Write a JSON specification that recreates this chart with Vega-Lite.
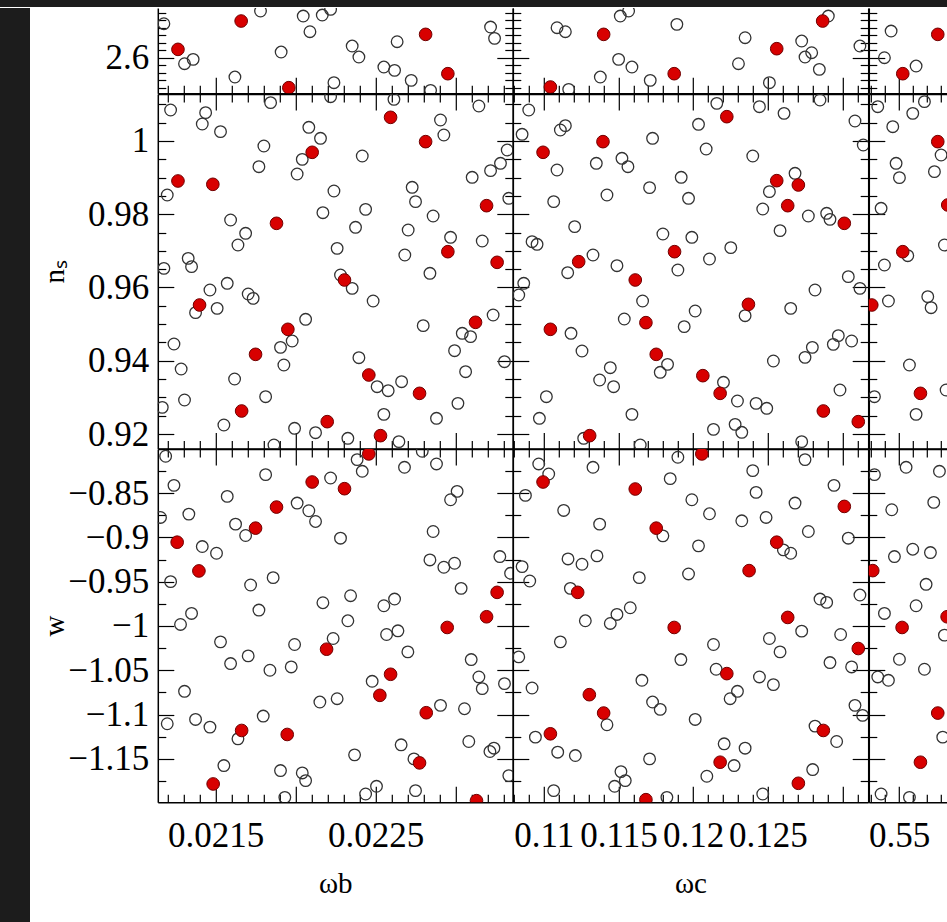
{
"$schema":"https://vega.github.io/schema/vega-lite/v6.json",
"background":"white",
"padding":0,
"spacing":-7,
"config":{
 "view":{"stroke":null},
 "axis":{"domain":true,"domainColor":"black","domainWidth":1.5,"ticks":true,"tickColor":"black","tickWidth":1.2,"tickSize":-16,"grid":false,"zindex":1,"labelFont":"Liberation Serif","labelFontSize":35,"labelColor":"black","labelOverlap":false,"labelFlush":false,"labelBound":false,"titleFont":"Liberation Serif","titleFontSize":29,"titleFontWeight":"normal","titleColor":"black"}
},
"datasets":{
"r0c1":[
{"x":0.021177,"y":2.71333,"t":"o"},{"x":0.02166,"y":2.72222,"t":"r"},{"x":0.021781,"y":2.75556,"t":"o"},{"x":0.022048,"y":2.73889,"t":"o"},{"x":0.02209,"y":2.68667,"t":"o"},{"x":0.022167,"y":2.74222,"t":"o"},{"x":0.022219,"y":2.76111,"t":"o"},{"x":0.021265,"y":2.62778,"t":"r"},{"x":0.021306,"y":2.58,"t":"o"},{"x":0.02136,"y":2.59444,"t":"o"},{"x":0.02191,"y":2.61889,"t":"o"},{"x":0.021621,"y":2.53556,"t":"o"},{"x":0.022354,"y":2.63889,"t":"o"},{"x":0.022396,"y":2.60222,"t":"o"},{"x":0.022635,"y":2.65333,"t":"o"},{"x":0.022813,"y":2.67778,"t":"r"},{"x":0.022552,"y":2.56889,"t":"o"},{"x":0.022619,"y":2.55778,"t":"o"},{"x":0.022952,"y":2.54667,"t":"r"},{"x":0.022723,"y":2.52444,"t":"o"},{"x":0.023219,"y":2.70222,"t":"o"},{"x":0.023244,"y":2.66444,"t":"o"},{"x":0.021958,"y":2.5,"t":"r"},{"x":0.02224,"y":2.51667,"t":"o"},{"x":0.022844,"y":2.49111,"t":"o"}
],
"r0c2":[
{"x":0.110891,"y":2.7,"t":"o"},{"x":0.111448,"y":2.68667,"t":"o"},{"x":0.114011,"y":2.67778,"t":"r"},{"x":0.115125,"y":2.73889,"t":"o"},{"x":0.115682,"y":2.75556,"t":"o"},{"x":0.118913,"y":2.71111,"t":"o"},{"x":0.115013,"y":2.59444,"t":"o"},{"x":0.115905,"y":2.56889,"t":"o"},{"x":0.113788,"y":2.53556,"t":"o"},{"x":0.11713,"y":2.52444,"t":"o"},{"x":0.118734,"y":2.54667,"t":"r"},{"x":0.110446,"y":2.50222,"t":"r"},{"x":0.111671,"y":2.49444,"t":"o"},{"x":0.12348,"y":2.66667,"t":"o"},{"x":0.123035,"y":2.58,"t":"o"},{"x":0.125597,"y":2.63,"t":"r"},{"x":0.127268,"y":2.65556,"t":"o"},{"x":0.127937,"y":2.61667,"t":"o"},{"x":0.127491,"y":2.60222,"t":"o"},{"x":0.128449,"y":2.56111,"t":"o"},{"x":0.128672,"y":2.72222,"t":"r"},{"x":0.129051,"y":2.73889,"t":"o"},{"x":0.125107,"y":2.51667,"t":"o"},{"x":0.131167,"y":2.63889,"t":"o"}
],
"r0c3":[
{"x":0.54429,"y":2.68889,"t":"o"},{"x":0.53952,"y":2.6,"t":"o"},{"x":0.56214,"y":2.57222,"t":"o"},{"x":0.55262,"y":2.54667,"t":"r"},{"x":0.57762,"y":2.67778,"t":"r"}
],
"r1c1":[
{"x":0.022219,"y":1.0121,"t":"o"},{"x":0.021219,"y":1.00846,"t":"o"},{"x":0.021438,"y":1.00774,"t":"o"},{"x":0.021417,"y":1.00464,"t":"o"},{"x":0.021531,"y":1.00255,"t":"o"},{"x":0.021844,"y":1.01047,"t":"o"},{"x":0.022615,"y":1.01138,"t":"o"},{"x":0.023146,"y":1.00956,"t":"o"},{"x":0.022594,"y":1.00646,"t":"r"},{"x":0.022083,"y":1.00373,"t":"o"},{"x":0.022156,"y":1.00073,"t":"o"},{"x":0.022104,"y":0.99691,"t":"r"},{"x":0.022906,"y":1.00573,"t":"o"},{"x":0.022927,"y":1.00164,"t":"o"},{"x":0.022813,"y":0.99982,"t":"r"},{"x":0.021802,"y":0.99863,"t":"o"},{"x":0.021771,"y":0.99299,"t":"o"},{"x":0.022042,"y":0.99499,"t":"o"},{"x":0.02201,"y":0.99099,"t":"o"},{"x":0.022417,"y":0.9959,"t":"o"},{"x":0.023323,"y":0.99754,"t":"o"},{"x":0.023281,"y":0.9939,"t":"o"},{"x":0.023219,"y":0.9919,"t":"o"},{"x":0.023104,"y":0.99008,"t":"o"},{"x":0.021265,"y":0.98908,"t":"r"},{"x":0.021483,"y":0.98817,"t":"r"},{"x":0.021198,"y":0.98526,"t":"o"},{"x":0.02224,"y":0.98635,"t":"o"},{"x":0.022729,"y":0.98735,"t":"o"},{"x":0.02275,"y":0.98344,"t":"o"},{"x":0.023333,"y":0.98435,"t":"o"},{"x":0.023194,"y":0.98234,"t":"r"},{"x":0.022171,"y":0.98043,"t":"o"},{"x":0.022438,"y":0.98134,"t":"o"},{"x":0.022375,"y":0.97643,"t":"o"},{"x":0.02286,"y":0.97952,"t":"o"},{"x":0.021594,"y":0.97843,"t":"o"},{"x":0.021881,"y":0.97752,"t":"r"},{"x":0.021688,"y":0.97479,"t":"o"},{"x":0.02164,"y":0.9716,"t":"o"},{"x":0.022704,"y":0.9757,"t":"o"},{"x":0.022969,"y":0.9737,"t":"o"},{"x":0.023167,"y":0.9727,"t":"o"},{"x":0.022952,"y":0.96978,"t":"r"},{"x":0.02226,"y":0.97069,"t":"o"},{"x":0.022683,"y":0.96887,"t":"o"},{"x":0.021329,"y":0.96796,"t":"o"},{"x":0.02135,"y":0.96569,"t":"o"},{"x":0.021177,"y":0.96523,"t":"o"},{"x":0.02326,"y":0.96687,"t":"r"},{"x":0.02284,"y":0.96387,"t":"o"},{"x":0.022281,"y":0.96341,"t":"o"},{"x":0.022306,"y":0.96205,"t":"r"},{"x":0.022354,"y":0.95977,"t":"o"},{"x":0.021573,"y":0.96114,"t":"o"},{"x":0.021465,"y":0.95932,"t":"o"},{"x":0.021704,"y":0.95823,"t":"o"},{"x":0.021735,"y":0.95704,"t":"o"},{"x":0.0214,"y":0.95522,"t":"r"},{"x":0.021375,"y":0.95313,"t":"o"},{"x":0.02151,"y":0.95431,"t":"o"},{"x":0.022485,"y":0.95631,"t":"o"},{"x":0.022063,"y":0.95131,"t":"o"},{"x":0.023125,"y":0.95049,"t":"r"},{"x":0.023235,"y":0.95249,"t":"o"},{"x":0.022798,"y":0.94958,"t":"o"},{"x":0.023042,"y":0.94749,"t":"o"},{"x":0.023094,"y":0.94658,"t":"o"},{"x":0.021952,"y":0.94858,"t":"r"},{"x":0.021979,"y":0.94539,"t":"o"},{"x":0.021906,"y":0.94366,"t":"o"},{"x":0.02124,"y":0.94457,"t":"o"},{"x":0.02175,"y":0.94175,"t":"r"},{"x":0.021927,"y":0.93884,"t":"o"},{"x":0.022396,"y":0.94084,"t":"o"},{"x":0.022994,"y":0.94275,"t":"o"},{"x":0.023306,"y":0.93975,"t":"o"},{"x":0.021285,"y":0.93775,"t":"o"},{"x":0.022458,"y":0.93611,"t":"r"},{"x":0.02251,"y":0.93292,"t":"o"},{"x":0.022579,"y":0.93183,"t":"o"},{"x":0.022663,"y":0.93429,"t":"o"},{"x":0.023063,"y":0.93702,"t":"o"},{"x":0.021619,"y":0.93502,"t":"o"},{"x":0.022775,"y":0.9311,"t":"r"},{"x":0.021813,"y":0.93019,"t":"o"},{"x":0.021306,"y":0.92928,"t":"o"},{"x":0.021167,"y":0.92728,"t":"o"},{"x":0.023015,"y":0.92837,"t":"o"},{"x":0.021663,"y":0.92628,"t":"r"},{"x":0.022552,"y":0.92537,"t":"o"},{"x":0.022881,"y":0.92428,"t":"o"},{"x":0.022198,"y":0.92337,"t":"r"},{"x":0.021552,"y":0.92246,"t":"o"},{"x":0.021994,"y":0.92155,"t":"o"},{"x":0.022125,"y":0.92036,"t":"o"},{"x":0.022531,"y":0.91955,"t":"r"},{"x":0.022327,"y":0.91882,"t":"o"},{"x":0.022646,"y":0.91791,"t":"o"},{"x":0.021865,"y":0.917,"t":"o"}
],
"r1c2":[
{"x":0.108997,"y":1.00846,"t":"o"},{"x":0.108552,"y":1.00182,"t":"o"},{"x":0.111114,"y":1.003,"t":"o"},{"x":0.111448,"y":1.00419,"t":"o"},{"x":0.122255,"y":1.00664,"t":"r"},{"x":0.121586,"y":1.01028,"t":"o"},{"x":0.124439,"y":1.00937,"t":"o"},{"x":0.126087,"y":1.00755,"t":"o"},{"x":0.128494,"y":1.01119,"t":"o"},{"x":0.130834,"y":1.00546,"t":"o"},{"x":0.120361,"y":1.00455,"t":"o"},{"x":0.113966,"y":0.99982,"t":"r"},{"x":0.117286,"y":1.00073,"t":"o"},{"x":0.109955,"y":0.99691,"t":"r"},{"x":0.120873,"y":0.99782,"t":"o"},{"x":0.123993,"y":0.9959,"t":"o"},{"x":0.13139,"y":0.99891,"t":"o"},{"x":0.110891,"y":0.99208,"t":"o"},{"x":0.11352,"y":0.9939,"t":"o"},{"x":0.115236,"y":0.99527,"t":"o"},{"x":0.115637,"y":0.99299,"t":"o"},{"x":0.119202,"y":0.99008,"t":"o"},{"x":0.125597,"y":0.98917,"t":"r"},{"x":0.127045,"y":0.98799,"t":"r"},{"x":0.126823,"y":0.99117,"t":"o"},{"x":0.125107,"y":0.98617,"t":"o"},{"x":0.126332,"y":0.98234,"t":"r"},{"x":0.124661,"y":0.98143,"t":"o"},{"x":0.117086,"y":0.98726,"t":"o"},{"x":0.114233,"y":0.98526,"t":"o"},{"x":0.119693,"y":0.98435,"t":"o"},{"x":0.110668,"y":0.98344,"t":"o"},{"x":0.127714,"y":0.97952,"t":"o"},{"x":0.128939,"y":0.98025,"t":"o"},{"x":0.129162,"y":0.97861,"t":"o"},{"x":0.13012,"y":0.97752,"t":"r"},{"x":0.112072,"y":0.97661,"t":"o"},{"x":0.12582,"y":0.97552,"t":"o"},{"x":0.117977,"y":0.97461,"t":"o"},{"x":0.119915,"y":0.9737,"t":"o"},{"x":0.10922,"y":0.97251,"t":"o"},{"x":0.109554,"y":0.97179,"t":"o"},{"x":0.118757,"y":0.96978,"t":"r"},{"x":0.122522,"y":0.97088,"t":"o"},{"x":0.121096,"y":0.96778,"t":"o"},{"x":0.11234,"y":0.96705,"t":"r"},{"x":0.111604,"y":0.96405,"t":"o"},{"x":0.113298,"y":0.96887,"t":"o"},{"x":0.114902,"y":0.96596,"t":"o"},{"x":0.11898,"y":0.96478,"t":"o"},{"x":0.108663,"y":0.96114,"t":"o"},{"x":0.108329,"y":0.95795,"t":"o"},{"x":0.116127,"y":0.96205,"t":"r"},{"x":0.130388,"y":0.96296,"t":"o"},{"x":0.131167,"y":0.95977,"t":"o"},{"x":0.12816,"y":0.95932,"t":"o"},{"x":0.116618,"y":0.95631,"t":"o"},{"x":0.123703,"y":0.9554,"t":"r"},{"x":0.12348,"y":0.95231,"t":"o"},{"x":0.126533,"y":0.95431,"t":"o"},{"x":0.120138,"y":0.95358,"t":"o"},{"x":0.115392,"y":0.9514,"t":"o"},{"x":0.11684,"y":0.9504,"t":"r"},{"x":0.119403,"y":0.94931,"t":"o"},{"x":0.110446,"y":0.94858,"t":"r"},{"x":0.111827,"y":0.94749,"t":"o"},{"x":0.112562,"y":0.94266,"t":"o"},{"x":0.129719,"y":0.94685,"t":"o"},{"x":0.129385,"y":0.94448,"t":"o"},{"x":0.13061,"y":0.94539,"t":"o"},{"x":0.127981,"y":0.94366,"t":"o"},{"x":0.127491,"y":0.94093,"t":"o"},{"x":0.125374,"y":0.93993,"t":"o"},{"x":0.117531,"y":0.94175,"t":"r"},{"x":0.118289,"y":0.93902,"t":"o"},{"x":0.117799,"y":0.93684,"t":"o"},{"x":0.114456,"y":0.93811,"t":"o"},{"x":0.113743,"y":0.93474,"t":"o"},{"x":0.114679,"y":0.93292,"t":"o"},{"x":0.120651,"y":0.93593,"t":"r"},{"x":0.122032,"y":0.93411,"t":"o"},{"x":0.121809,"y":0.9311,"t":"r"},{"x":0.122968,"y":0.92901,"t":"o"},{"x":0.124216,"y":0.92837,"t":"o"},{"x":0.124929,"y":0.92701,"t":"o"},{"x":0.129831,"y":0.93201,"t":"o"},{"x":0.110178,"y":0.93019,"t":"o"},{"x":0.10971,"y":0.92428,"t":"o"},{"x":0.115905,"y":0.92537,"t":"o"},{"x":0.128717,"y":0.92628,"t":"r"},{"x":0.131056,"y":0.92337,"t":"r"},{"x":0.121364,"y":0.92127,"t":"o"},{"x":0.122812,"y":0.92264,"t":"o"},{"x":0.123258,"y":0.92046,"t":"o"},{"x":0.113075,"y":0.91955,"t":"r"},{"x":0.112674,"y":0.91882,"t":"o"},{"x":0.127268,"y":0.91791,"t":"o"},{"x":0.116462,"y":0.917,"t":"o"}
],
"r1c3":[
{"x":0.53476,"y":1.00937,"t":"o"},{"x":0.54548,"y":1.00391,"t":"o"},{"x":0.55976,"y":1.00755,"t":"o"},{"x":0.5681,"y":1.01074,"t":"o"},{"x":0.57762,"y":0.99982,"t":"r"},{"x":0.58,"y":0.99618,"t":"o"},{"x":0.54786,"y":0.9939,"t":"o"},{"x":0.55024,"y":0.98999,"t":"o"},{"x":0.57524,"y":0.99163,"t":"o"},{"x":0.53714,"y":0.98162,"t":"o"},{"x":0.58238,"y":0.9716,"t":"o"},{"x":0.55262,"y":0.96978,"t":"r"},{"x":0.55619,"y":0.96869,"t":"o"},{"x":0.53952,"y":0.96614,"t":"o"},{"x":0.53048,"y":0.95522,"t":"r"},{"x":0.54238,"y":0.95631,"t":"o"},{"x":0.57048,"y":0.9575,"t":"o"},{"x":0.57286,"y":0.95449,"t":"o"},{"x":0.55738,"y":0.93884,"t":"o"},{"x":0.53238,"y":0.93019,"t":"o"},{"x":0.56524,"y":0.9311,"t":"r"},{"x":0.56214,"y":0.92537,"t":"o"},{"x":0.58476,"y":0.98253,"t":"r"},{"x":0.58357,"y":0.93201,"t":"o"}
],
"r2c1":[
{"x":0.022458,"y":-0.80585,"t":"r"},{"x":0.022385,"y":-0.81226,"t":"o"},{"x":0.022417,"y":-0.82547,"t":"o"},{"x":0.022792,"y":-0.80283,"t":"o"},{"x":0.021188,"y":-0.80849,"t":"o"},{"x":0.021813,"y":-0.82925,"t":"o"},{"x":0.02124,"y":-0.84132,"t":"o"},{"x":0.022104,"y":-0.83755,"t":"r"},{"x":0.022219,"y":-0.83302,"t":"o"},{"x":0.022306,"y":-0.84509,"t":"r"},{"x":0.022681,"y":-0.82094,"t":"o"},{"x":0.022881,"y":-0.81717,"t":"o"},{"x":0.021573,"y":-0.85377,"t":"o"},{"x":0.021881,"y":-0.86585,"t":"r"},{"x":0.02201,"y":-0.86132,"t":"o"},{"x":0.022083,"y":-0.87,"t":"o"},{"x":0.022125,"y":-0.88208,"t":"o"},{"x":0.02301,"y":-0.84811,"t":"o"},{"x":0.022969,"y":-0.85755,"t":"o"},{"x":0.021333,"y":-0.87377,"t":"o"},{"x":0.021156,"y":-0.87755,"t":"o"},{"x":0.021625,"y":-0.88509,"t":"o"},{"x":0.021688,"y":-0.89792,"t":"o"},{"x":0.02175,"y":-0.88962,"t":"r"},{"x":0.02286,"y":-0.8934,"t":"o"},{"x":0.02126,"y":-0.90547,"t":"r"},{"x":0.021417,"y":-0.91038,"t":"o"},{"x":0.021506,"y":-0.91792,"t":"o"},{"x":0.022281,"y":-0.90094,"t":"o"},{"x":0.023277,"y":-0.9217,"t":"o"},{"x":0.02284,"y":-0.92547,"t":"o"},{"x":0.022927,"y":-0.93377,"t":"o"},{"x":0.022994,"y":-0.92925,"t":"o"},{"x":0.021396,"y":-0.93792,"t":"r"},{"x":0.023344,"y":-0.94057,"t":"o"},{"x":0.021219,"y":-0.95,"t":"o"},{"x":0.021719,"y":-0.95377,"t":"o"},{"x":0.02186,"y":-0.94547,"t":"o"},{"x":0.023035,"y":-0.95755,"t":"o"},{"x":0.02326,"y":-0.96208,"t":"r"},{"x":0.022171,"y":-0.97377,"t":"o"},{"x":0.022344,"y":-0.96585,"t":"o"},{"x":0.022552,"y":-0.97717,"t":"o"},{"x":0.022619,"y":-0.96962,"t":"o"},{"x":0.021771,"y":-0.98208,"t":"o"},{"x":0.02135,"y":-0.98585,"t":"o"},{"x":0.021281,"y":-0.9983,"t":"o"},{"x":0.023194,"y":-0.98962,"t":"r"},{"x":0.022327,"y":-0.99415,"t":"o"},{"x":0.022948,"y":-1.0017,"t":"r"},{"x":0.022569,"y":-1.00962,"t":"o"},{"x":0.02264,"y":-1.00547,"t":"o"},{"x":0.021531,"y":-1.01792,"t":"o"},{"x":0.022235,"y":-1.01415,"t":"o"},{"x":0.022194,"y":-1.02623,"t":"r"},{"x":0.021994,"y":-1.02094,"t":"o"},{"x":0.021704,"y":-1.03377,"t":"o"},{"x":0.021594,"y":-1.04245,"t":"o"},{"x":0.022702,"y":-1.02925,"t":"o"},{"x":0.02184,"y":-1.05,"t":"o"},{"x":0.021973,"y":-1.04623,"t":"o"},{"x":0.023098,"y":-1.03792,"t":"o"},{"x":0.023146,"y":-1.05755,"t":"o"},{"x":0.023167,"y":-1.07075,"t":"o"},{"x":0.023306,"y":-1.06509,"t":"o"},{"x":0.022594,"y":-1.05453,"t":"r"},{"x":0.022479,"y":-1.06245,"t":"o"},{"x":0.022527,"y":-1.0783,"t":"r"},{"x":0.021306,"y":-1.07377,"t":"o"},{"x":0.022152,"y":-1.08585,"t":"o"},{"x":0.02226,"y":-1.08208,"t":"o"},{"x":0.022817,"y":-1.09792,"t":"r"},{"x":0.022906,"y":-1.08962,"t":"o"},{"x":0.023056,"y":-1.0934,"t":"o"},{"x":0.021798,"y":-1.1017,"t":"o"},{"x":0.021198,"y":-1.11038,"t":"o"},{"x":0.021375,"y":-1.10547,"t":"o"},{"x":0.021465,"y":-1.11415,"t":"o"},{"x":0.021663,"y":-1.11792,"t":"r"},{"x":0.02164,"y":-1.12736,"t":"o"},{"x":0.021948,"y":-1.12245,"t":"r"},{"x":0.023083,"y":-1.13038,"t":"o"},{"x":0.02266,"y":-1.13415,"t":"o"},{"x":0.023215,"y":-1.1417,"t":"o"},{"x":0.02324,"y":-1.13792,"t":"o"},{"x":0.022369,"y":-1.14547,"t":"o"},{"x":0.022775,"y":-1.15453,"t":"r"},{"x":0.02274,"y":-1.15,"t":"o"},{"x":0.021552,"y":-1.15755,"t":"o"},{"x":0.021906,"y":-1.16321,"t":"o"},{"x":0.022042,"y":-1.16585,"t":"o"},{"x":0.022063,"y":-1.17453,"t":"o"},{"x":0.023333,"y":-1.16887,"t":"o"},{"x":0.021485,"y":-1.1783,"t":"r"},{"x":0.022506,"y":-1.18094,"t":"o"},{"x":0.022438,"y":-1.18962,"t":"o"},{"x":0.02275,"y":-1.18585,"t":"o"},{"x":0.021933,"y":-1.1934,"t":"o"},{"x":0.023131,"y":-1.19717,"t":"r"}
],
"r2c2":[
{"x":0.113298,"y":-0.82094,"t":"o"},{"x":0.109666,"y":-0.81717,"t":"o"},{"x":0.110334,"y":-0.82849,"t":"o"},{"x":0.109955,"y":-0.83755,"t":"r"},{"x":0.108775,"y":-0.85264,"t":"o"},{"x":0.11898,"y":-0.80962,"t":"o"},{"x":0.120584,"y":-0.80585,"t":"r"},{"x":0.123993,"y":-0.82472,"t":"o"},{"x":0.12943,"y":-0.84132,"t":"o"},{"x":0.116127,"y":-0.84547,"t":"r"},{"x":0.118467,"y":-0.83377,"t":"o"},{"x":0.124216,"y":-0.84925,"t":"o"},{"x":0.127491,"y":-0.81226,"t":"o"},{"x":0.119915,"y":-0.85755,"t":"o"},{"x":0.121096,"y":-0.8734,"t":"o"},{"x":0.111337,"y":-0.86962,"t":"o"},{"x":0.113743,"y":-0.88509,"t":"o"},{"x":0.13012,"y":-0.86509,"t":"r"},{"x":0.126823,"y":-0.86132,"t":"o"},{"x":0.123258,"y":-0.88132,"t":"o"},{"x":0.124884,"y":-0.87755,"t":"o"},{"x":0.117531,"y":-0.88962,"t":"r"},{"x":0.117977,"y":-0.8983,"t":"o"},{"x":0.127714,"y":-0.8934,"t":"o"},{"x":0.130388,"y":-0.90094,"t":"o"},{"x":0.120361,"y":-0.90962,"t":"o"},{"x":0.125597,"y":-0.90547,"t":"r"},{"x":0.126043,"y":-0.91415,"t":"o"},{"x":0.126533,"y":-0.91792,"t":"o"},{"x":0.111627,"y":-0.92434,"t":"o"},{"x":0.112562,"y":-0.93038,"t":"o"},{"x":0.113565,"y":-0.92094,"t":"o"},{"x":0.108552,"y":-0.93302,"t":"o"},{"x":0.109064,"y":-0.94925,"t":"o"},{"x":0.123748,"y":-0.93755,"t":"r"},{"x":0.119693,"y":-0.94132,"t":"o"},{"x":0.116395,"y":-0.94547,"t":"o"},{"x":0.112273,"y":-0.96208,"t":"r"},{"x":0.111783,"y":-0.95755,"t":"o"},{"x":0.128494,"y":-0.96962,"t":"o"},{"x":0.128939,"y":-0.9734,"t":"o"},{"x":0.131167,"y":-0.96509,"t":"o"},{"x":0.115793,"y":-0.97943,"t":"o"},{"x":0.114902,"y":-0.98698,"t":"o"},{"x":0.114456,"y":-0.99717,"t":"o"},{"x":0.112785,"y":-0.99415,"t":"o"},{"x":0.118734,"y":-1.0017,"t":"r"},{"x":0.126332,"y":-0.99038,"t":"r"},{"x":0.127268,"y":-1.00585,"t":"o"},{"x":0.129875,"y":-1.00962,"t":"o"},{"x":0.111114,"y":-1.01792,"t":"o"},{"x":0.125107,"y":-1.01415,"t":"o"},{"x":0.12582,"y":-1.02925,"t":"o"},{"x":0.121364,"y":-1.02094,"t":"o"},{"x":0.131056,"y":-1.02547,"t":"r"},{"x":0.108329,"y":-1.03491,"t":"o"},{"x":0.11918,"y":-1.03792,"t":"o"},{"x":0.122255,"y":-1.05377,"t":"r"},{"x":0.121542,"y":-1.04887,"t":"o"},{"x":0.129162,"y":-1.04132,"t":"o"},{"x":0.13061,"y":-1.04623,"t":"o"},{"x":0.10922,"y":-1.07,"t":"o"},{"x":0.116573,"y":-1.06132,"t":"o"},{"x":0.124439,"y":-1.05755,"t":"o"},{"x":0.125374,"y":-1.06623,"t":"o"},{"x":0.122968,"y":-1.07377,"t":"o"},{"x":0.122478,"y":-1.08208,"t":"o"},{"x":0.117286,"y":-1.08585,"t":"o"},{"x":0.117799,"y":-1.09415,"t":"o"},{"x":0.113053,"y":-1.07755,"t":"r"},{"x":0.114011,"y":-1.0983,"t":"r"},{"x":0.114233,"y":-1.11151,"t":"o"},{"x":0.130834,"y":-1.08962,"t":"o"},{"x":0.131346,"y":-1.10094,"t":"o"},{"x":0.120138,"y":-1.10547,"t":"o"},{"x":0.128717,"y":-1.11792,"t":"r"},{"x":0.12816,"y":-1.11302,"t":"o"},{"x":0.129608,"y":-1.13038,"t":"o"},{"x":0.110446,"y":-1.1217,"t":"r"},{"x":0.109443,"y":-1.12547,"t":"o"},{"x":0.110936,"y":-1.14245,"t":"o"},{"x":0.112117,"y":-1.14623,"t":"o"},{"x":0.122077,"y":-1.13302,"t":"o"},{"x":0.12348,"y":-1.13792,"t":"o"},{"x":0.117086,"y":-1.15,"t":"o"},{"x":0.121809,"y":-1.15377,"t":"r"},{"x":0.122745,"y":-1.15755,"t":"o"},{"x":0.128004,"y":-1.16208,"t":"o"},{"x":0.115169,"y":-1.16434,"t":"o"},{"x":0.115459,"y":-1.17453,"t":"o"},{"x":0.114746,"y":-1.18094,"t":"o"},{"x":0.120918,"y":-1.16962,"t":"o"},{"x":0.127045,"y":-1.17755,"t":"r"},{"x":0.110668,"y":-1.18585,"t":"o"},{"x":0.124661,"y":-1.18962,"t":"o"},{"x":0.118244,"y":-1.1934,"t":"o"},{"x":0.11684,"y":-1.19604,"t":"r"}
],
"r2c3":[
{"x":0.53238,"y":-0.82925,"t":"o"},{"x":0.555,"y":-0.82094,"t":"o"},{"x":0.57881,"y":-0.82547,"t":"o"},{"x":0.54476,"y":-0.86887,"t":"o"},{"x":0.57476,"y":-0.86057,"t":"o"},{"x":0.54667,"y":-0.9217,"t":"o"},{"x":0.55976,"y":-0.9134,"t":"o"},{"x":0.57238,"y":-0.91717,"t":"o"},{"x":0.53119,"y":-0.93755,"t":"r"},{"x":0.56929,"y":-0.95302,"t":"o"},{"x":0.53952,"y":-0.98585,"t":"o"},{"x":0.56214,"y":-0.97717,"t":"o"},{"x":0.55214,"y":-1.0017,"t":"r"},{"x":0.58429,"y":-0.98962,"t":"r"},{"x":0.58238,"y":-1.01038,"t":"o"},{"x":0.55024,"y":-1.03755,"t":"o"},{"x":0.5681,"y":-1.04887,"t":"o"},{"x":0.53476,"y":-1.05755,"t":"o"},{"x":0.54238,"y":-1.06132,"t":"o"},{"x":0.57762,"y":-1.0983,"t":"r"},{"x":0.58119,"y":-1.12547,"t":"o"},{"x":0.56524,"y":-1.15377,"t":"r"},{"x":0.53714,"y":-1.18962,"t":"o"},{"x":0.55738,"y":-1.1934,"t":"o"}
]
},
"vconcat":[
 {"width":947,"height":7,"view":{"fill":"#1c1c1c","stroke":null},"data":{"values":[{}]},"mark":{"type":"point","opacity":0},"encoding":{}},
 {"spacing":9.8,"hconcat":[
  {"width":30,"height":922,"view":{"fill":"#1c1c1c","stroke":null},"data":{"values":[{}]},"mark":{"type":"point","opacity":0},"encoding":{}},
  {"columns":3,"spacing":0,"align":"each","bounds":"flush","concat":[
    {"width":355,"height":85.3,"data":{"name":"r0c1"},"layer":[
     {"transform":[{"filter":"datum.t=='o'"}],"mark":{"type":"point","shape":"circle","size":135,"filled":false,"stroke":"#333","strokeWidth":1.3,"opacity":1,"clip":true},"encoding":{
      "x":{"field":"x","type":"quantitative","scale":{"domain":[0.021139,0.023358],"nice":false,"zero":false},"axis":{"orient":"bottom","values":[0.0212,0.0213,0.0214,0.0215,0.0216,0.0217,0.0218,0.0219,0.022,0.0221,0.0222,0.0223,0.0224,0.0225,0.0226,0.0227,0.0228,0.0229,0.023,0.0231,0.0232,0.0233],"tickDash":{"condition":{"test":"abs(datum.value*2000-round(datum.value*2000))<0.01","value":[100,1]},"value":[8,100]},"labels":false,"title":null}},
      "y":{"field":"y","type":"quantitative","scale":{"domain":[2.4813,2.7657],"nice":false,"zero":false},"axis":{"orient":"left","values":[2.5,2.525,2.55,2.575,2.6,2.625,2.65,2.675,2.7,2.725,2.75],"tickDash":{"condition":{"test":"abs(datum.value-2.6)<0.001","value":[100,1]},"value":[8,100]},"format":"~g","labelExpr":"datum.value==2.6?datum.label:''","labelFontSize":{"condition":{"test":"datum.value==2.6","value":35},"value":0},"labelPadding":25,"title":" ","titleX":-94,"titleBaseline":"alphabetic","titleOpacity":0}}}},
     {"transform":[{"filter":"datum.t=='r'"}],"mark":{"type":"point","shape":"circle","size":160,"filled":true,"fill":"#d80000","stroke":"#700000","strokeWidth":1,"opacity":1,"clip":true},"encoding":{
      "x":{"field":"x","type":"quantitative","scale":{"domain":[0.021139,0.023358],"nice":false,"zero":false},"axis":null},
      "y":{"field":"y","type":"quantitative","scale":{"domain":[2.4813,2.7657],"nice":false,"zero":false},"axis":null}}},
     {"mark":{"type":"point","opacity":0,"clip":true},"encoding":{
      "x":{"field":"x","type":"quantitative","scale":{"domain":[0.021139,0.023358],"nice":false,"zero":false},"axis":{"orient":"top","domain":false,"ticks":false,"labels":false,"title":" ","titleOpacity":0,"titleY":-7.3,"titleBaseline":"top"}},
      "y":{"field":"y","type":"quantitative","scale":{"domain":[2.4813,2.7657],"nice":false,"zero":false},"axis":{"orient":"right","values":[2.5,2.525,2.55,2.575,2.6,2.625,2.65,2.675,2.7,2.725,2.75],"tickDash":{"condition":{"test":"abs(datum.value-2.6)<0.001","value":[100,1]},"value":[8,100]},"labels":false,"title":null}}}}
    ],"resolve":{"axis":{"x":"independent","y":"independent"}}},
    {"width":355.4,"height":85.3,"data":{"name":"r0c2"},"layer":[
     {"transform":[{"filter":"datum.t=='o'"}],"mark":{"type":"point","shape":"circle","size":135,"filled":false,"stroke":"#333","strokeWidth":1.3,"opacity":1,"clip":true},"encoding":{
      "x":{"field":"x","type":"quantitative","scale":{"domain":[0.10793,0.13172],"nice":false,"zero":false},"axis":{"orient":"bottom","values":[0.108,0.109,0.11,0.111,0.112,0.113,0.114,0.115,0.116,0.117,0.118,0.119,0.12,0.121,0.122,0.123,0.124,0.125,0.126,0.127,0.128,0.129,0.13,0.131],"tickDash":{"condition":{"test":"abs(datum.value*200-round(datum.value*200))<0.01","value":[100,1]},"value":[8,100]},"labels":false,"title":null}},
      "y":{"field":"y","type":"quantitative","scale":{"domain":[2.4813,2.7657],"nice":false,"zero":false},"axis":{"orient":"left","values":[2.5,2.525,2.55,2.575,2.6,2.625,2.65,2.675,2.7,2.725,2.75],"tickDash":{"condition":{"test":"abs(datum.value-2.6)<0.001","value":[100,1]},"value":[8,100]},"labels":false,"title":null}}}},
     {"transform":[{"filter":"datum.t=='r'"}],"mark":{"type":"point","shape":"circle","size":160,"filled":true,"fill":"#d80000","stroke":"#700000","strokeWidth":1,"opacity":1,"clip":true},"encoding":{
      "x":{"field":"x","type":"quantitative","scale":{"domain":[0.10793,0.13172],"nice":false,"zero":false},"axis":null},
      "y":{"field":"y","type":"quantitative","scale":{"domain":[2.4813,2.7657],"nice":false,"zero":false},"axis":null}}},
     {"mark":{"type":"point","opacity":0,"clip":true},"encoding":{
      "x":{"field":"x","type":"quantitative","scale":{"domain":[0.10793,0.13172],"nice":false,"zero":false},"axis":null},
      "y":{"field":"y","type":"quantitative","scale":{"domain":[2.4813,2.7657],"nice":false,"zero":false},"axis":{"orient":"right","values":[2.5,2.525,2.55,2.575,2.6,2.625,2.65,2.675,2.7,2.725,2.75],"tickDash":{"condition":{"test":"abs(datum.value-2.6)<0.001","value":[100,1]},"value":[8,100]},"labels":false,"title":null}}}}
    ],"resolve":{"axis":{"x":"independent","y":"independent"}}},
    {"width":79.3,"height":85.3,"data":{"name":"r0c3"},"layer":[
     {"transform":[{"filter":"datum.t=='o'"}],"mark":{"type":"point","shape":"circle","size":135,"filled":false,"stroke":"#333","strokeWidth":1.3,"opacity":1,"clip":true},"encoding":{
      "x":{"field":"x","type":"quantitative","scale":{"domain":[0.52836,0.585],"nice":false,"zero":false},"axis":{"orient":"bottom","values":[0.53,0.54,0.55,0.56,0.57,0.58],"tickDash":{"condition":{"test":"abs(datum.value*20-round(datum.value*20))<0.01","value":[100,1]},"value":[8,100]},"labels":false,"title":null}},
      "y":{"field":"y","type":"quantitative","scale":{"domain":[2.4813,2.7657],"nice":false,"zero":false},"axis":{"orient":"left","values":[2.5,2.525,2.55,2.575,2.6,2.625,2.65,2.675,2.7,2.725,2.75],"tickDash":{"condition":{"test":"abs(datum.value-2.6)<0.001","value":[100,1]},"value":[8,100]},"labels":false,"title":null}}}},
     {"transform":[{"filter":"datum.t=='r'"}],"mark":{"type":"point","shape":"circle","size":160,"filled":true,"fill":"#d80000","stroke":"#700000","strokeWidth":1,"opacity":1,"clip":true},"encoding":{
      "x":{"field":"x","type":"quantitative","scale":{"domain":[0.52836,0.585],"nice":false,"zero":false},"axis":null},
      "y":{"field":"y","type":"quantitative","scale":{"domain":[2.4813,2.7657],"nice":false,"zero":false},"axis":null}}}
    ],"resolve":{"axis":{"x":"independent","y":"independent"}}},
    {"width":355,"height":354.4,"data":{"name":"r1c1"},"layer":[
     {"transform":[{"filter":"datum.t=='o'"}],"mark":{"type":"point","shape":"circle","size":135,"filled":false,"stroke":"#333","strokeWidth":1.3,"opacity":1,"clip":true},"encoding":{
      "x":{"field":"x","type":"quantitative","scale":{"domain":[0.021139,0.023358],"nice":false,"zero":false},"axis":{"orient":"bottom","values":[0.0212,0.0213,0.0214,0.0215,0.0216,0.0217,0.0218,0.0219,0.022,0.0221,0.0222,0.0223,0.0224,0.0225,0.0226,0.0227,0.0228,0.0229,0.023,0.0231,0.0232,0.0233],"tickDash":{"condition":{"test":"abs(datum.value*2000-round(datum.value*2000))<0.01","value":[100,1]},"value":[8,100]},"labels":false,"title":null}},
      "y":{"field":"y","type":"quantitative","scale":{"domain":[0.91607,1.01283],"nice":false,"zero":false},"axis":{"orient":"left","values":[0.92,0.925,0.93,0.935,0.94,0.945,0.95,0.955,0.96,0.965,0.97,0.975,0.98,0.985,0.99,0.995,1,1.005,1.01],"tickDash":{"condition":{"test":"abs(datum.value*50-round(datum.value*50))<0.01","value":[100,1]},"value":[8,100]},"format":"~g","labelExpr":"datum.value==0.92||datum.value==0.94||datum.value==0.96||datum.value==0.98||datum.value==1?datum.label:''","labelFontSize":{"condition":{"test":"abs(datum.value*50-round(datum.value*50))<0.01","value":35},"value":0},"labelPadding":25,"title":"nₛ","titleX":-94,"titleBaseline":"alphabetic"}}}},
     {"transform":[{"filter":"datum.t=='r'"}],"mark":{"type":"point","shape":"circle","size":160,"filled":true,"fill":"#d80000","stroke":"#700000","strokeWidth":1,"opacity":1,"clip":true},"encoding":{
      "x":{"field":"x","type":"quantitative","scale":{"domain":[0.021139,0.023358],"nice":false,"zero":false},"axis":null},
      "y":{"field":"y","type":"quantitative","scale":{"domain":[0.91607,1.01283],"nice":false,"zero":false},"axis":null}}},
     {"mark":{"type":"point","opacity":0,"clip":true},"encoding":{
      "x":{"field":"x","type":"quantitative","scale":{"domain":[0.021139,0.023358],"nice":false,"zero":false},"axis":{"orient":"top","values":[0.0212,0.0213,0.0214,0.0215,0.0216,0.0217,0.0218,0.0219,0.022,0.0221,0.0222,0.0223,0.0224,0.0225,0.0226,0.0227,0.0228,0.0229,0.023,0.0231,0.0232,0.0233],"tickDash":{"condition":{"test":"abs(datum.value*2000-round(datum.value*2000))<0.01","value":[100,1]},"value":[8,100]},"labels":false,"title":null}},
      "y":{"field":"y","type":"quantitative","scale":{"domain":[0.91607,1.01283],"nice":false,"zero":false},"axis":{"orient":"right","values":[0.92,0.925,0.93,0.935,0.94,0.945,0.95,0.955,0.96,0.965,0.97,0.975,0.98,0.985,0.99,0.995,1,1.005,1.01],"tickDash":{"condition":{"test":"abs(datum.value*50-round(datum.value*50))<0.01","value":[100,1]},"value":[8,100]},"labels":false,"title":null}}}}
    ],"resolve":{"axis":{"x":"independent","y":"independent"}}},
    {"width":355.4,"height":354.4,"data":{"name":"r1c2"},"layer":[
     {"transform":[{"filter":"datum.t=='o'"}],"mark":{"type":"point","shape":"circle","size":135,"filled":false,"stroke":"#333","strokeWidth":1.3,"opacity":1,"clip":true},"encoding":{
      "x":{"field":"x","type":"quantitative","scale":{"domain":[0.10793,0.13172],"nice":false,"zero":false},"axis":{"orient":"bottom","values":[0.108,0.109,0.11,0.111,0.112,0.113,0.114,0.115,0.116,0.117,0.118,0.119,0.12,0.121,0.122,0.123,0.124,0.125,0.126,0.127,0.128,0.129,0.13,0.131],"tickDash":{"condition":{"test":"abs(datum.value*200-round(datum.value*200))<0.01","value":[100,1]},"value":[8,100]},"labels":false,"title":null}},
      "y":{"field":"y","type":"quantitative","scale":{"domain":[0.91607,1.01283],"nice":false,"zero":false},"axis":{"orient":"left","values":[0.92,0.925,0.93,0.935,0.94,0.945,0.95,0.955,0.96,0.965,0.97,0.975,0.98,0.985,0.99,0.995,1,1.005,1.01],"tickDash":{"condition":{"test":"abs(datum.value*50-round(datum.value*50))<0.01","value":[100,1]},"value":[8,100]},"labels":false,"title":null}}}},
     {"transform":[{"filter":"datum.t=='r'"}],"mark":{"type":"point","shape":"circle","size":160,"filled":true,"fill":"#d80000","stroke":"#700000","strokeWidth":1,"opacity":1,"clip":true},"encoding":{
      "x":{"field":"x","type":"quantitative","scale":{"domain":[0.10793,0.13172],"nice":false,"zero":false},"axis":null},
      "y":{"field":"y","type":"quantitative","scale":{"domain":[0.91607,1.01283],"nice":false,"zero":false},"axis":null}}},
     {"mark":{"type":"point","opacity":0,"clip":true},"encoding":{
      "x":{"field":"x","type":"quantitative","scale":{"domain":[0.10793,0.13172],"nice":false,"zero":false},"axis":{"orient":"top","values":[0.108,0.109,0.11,0.111,0.112,0.113,0.114,0.115,0.116,0.117,0.118,0.119,0.12,0.121,0.122,0.123,0.124,0.125,0.126,0.127,0.128,0.129,0.13,0.131],"tickDash":{"condition":{"test":"abs(datum.value*200-round(datum.value*200))<0.01","value":[100,1]},"value":[8,100]},"labels":false,"title":null}},
      "y":{"field":"y","type":"quantitative","scale":{"domain":[0.91607,1.01283],"nice":false,"zero":false},"axis":{"orient":"right","values":[0.92,0.925,0.93,0.935,0.94,0.945,0.95,0.955,0.96,0.965,0.97,0.975,0.98,0.985,0.99,0.995,1,1.005,1.01],"tickDash":{"condition":{"test":"abs(datum.value*50-round(datum.value*50))<0.01","value":[100,1]},"value":[8,100]},"labels":false,"title":null}}}}
    ],"resolve":{"axis":{"x":"independent","y":"independent"}}},
    {"width":79.3,"height":354.4,"data":{"name":"r1c3"},"layer":[
     {"transform":[{"filter":"datum.t=='o'"}],"mark":{"type":"point","shape":"circle","size":135,"filled":false,"stroke":"#333","strokeWidth":1.3,"opacity":1,"clip":true},"encoding":{
      "x":{"field":"x","type":"quantitative","scale":{"domain":[0.52836,0.585],"nice":false,"zero":false},"axis":{"orient":"bottom","values":[0.53,0.54,0.55,0.56,0.57,0.58],"tickDash":{"condition":{"test":"abs(datum.value*20-round(datum.value*20))<0.01","value":[100,1]},"value":[8,100]},"labels":false,"title":null}},
      "y":{"field":"y","type":"quantitative","scale":{"domain":[0.91607,1.01283],"nice":false,"zero":false},"axis":{"orient":"left","values":[0.92,0.925,0.93,0.935,0.94,0.945,0.95,0.955,0.96,0.965,0.97,0.975,0.98,0.985,0.99,0.995,1,1.005,1.01],"tickDash":{"condition":{"test":"abs(datum.value*50-round(datum.value*50))<0.01","value":[100,1]},"value":[8,100]},"labels":false,"title":null}}}},
     {"transform":[{"filter":"datum.t=='r'"}],"mark":{"type":"point","shape":"circle","size":160,"filled":true,"fill":"#d80000","stroke":"#700000","strokeWidth":1,"opacity":1,"clip":true},"encoding":{
      "x":{"field":"x","type":"quantitative","scale":{"domain":[0.52836,0.585],"nice":false,"zero":false},"axis":null},
      "y":{"field":"y","type":"quantitative","scale":{"domain":[0.91607,1.01283],"nice":false,"zero":false},"axis":null}}},
     {"mark":{"type":"point","opacity":0,"clip":true},"encoding":{
      "x":{"field":"x","type":"quantitative","scale":{"domain":[0.52836,0.585],"nice":false,"zero":false},"axis":{"orient":"top","values":[0.53,0.54,0.55,0.56,0.57,0.58],"tickDash":{"condition":{"test":"abs(datum.value*20-round(datum.value*20))<0.01","value":[100,1]},"value":[8,100]},"labels":false,"title":null}},
      "y":{"field":"y","type":"quantitative","scale":{"domain":[0.91607,1.01283],"nice":false,"zero":false},"axis":null}}}
    ],"resolve":{"axis":{"x":"independent","y":"independent"}}},
    {"width":355,"height":353.3,"data":{"name":"r2c1"},"layer":[
     {"transform":[{"filter":"datum.t=='o'"}],"mark":{"type":"point","shape":"circle","size":135,"filled":false,"stroke":"#333","strokeWidth":1.3,"opacity":1,"clip":true},"encoding":{
      "x":{"field":"x","type":"quantitative","scale":{"domain":[0.021139,0.023358],"nice":false,"zero":false},"axis":{"orient":"bottom","values":[0.0212,0.0213,0.0214,0.0215,0.0216,0.0217,0.0218,0.0219,0.022,0.0221,0.0222,0.0223,0.0224,0.0225,0.0226,0.0227,0.0228,0.0229,0.023,0.0231,0.0232,0.0233],"tickDash":{"condition":{"test":"abs(datum.value*2000-round(datum.value*2000))<0.01","value":[100,1]},"value":[8,100]},"format":"~g","labelExpr":"datum.value==0.0215||datum.value==0.0225?datum.label:''","labelPadding":32,"title":"ωb","titleY":90,"titleBaseline":"alphabetic"}},
      "y":{"field":"y","type":"quantitative","scale":{"domain":[-1.199,-0.8003],"nice":false,"zero":false},"axis":{"orient":"left","values":[-1.175,-1.15,-1.125,-1.1,-1.075,-1.05,-1.025,-1,-0.975,-0.95,-0.925,-0.9,-0.875,-0.85,-0.825],"tickDash":{"condition":{"test":"abs(datum.value*20-round(datum.value*20))<0.01","value":[100,1]},"value":[8,100]},"format":"~g","labelExpr":"datum.value==-0.85||datum.value==-0.9||datum.value==-0.95||datum.value==-1||datum.value==-1.05||datum.value==-1.1||datum.value==-1.15?datum.label:''","labelFontSize":{"condition":{"test":"abs(datum.value*20-round(datum.value*20))<0.01","value":35},"value":0},"labelPadding":25,"title":"w","titleX":-94,"titleBaseline":"alphabetic"}}}},
     {"transform":[{"filter":"datum.t=='r'"}],"mark":{"type":"point","shape":"circle","size":160,"filled":true,"fill":"#d80000","stroke":"#700000","strokeWidth":1,"opacity":1,"clip":true},"encoding":{
      "x":{"field":"x","type":"quantitative","scale":{"domain":[0.021139,0.023358],"nice":false,"zero":false},"axis":null},
      "y":{"field":"y","type":"quantitative","scale":{"domain":[-1.199,-0.8003],"nice":false,"zero":false},"axis":null}}},
     {"mark":{"type":"point","opacity":0,"clip":true},"encoding":{
      "x":{"field":"x","type":"quantitative","scale":{"domain":[0.021139,0.023358],"nice":false,"zero":false},"axis":{"orient":"top","values":[0.0212,0.0213,0.0214,0.0215,0.0216,0.0217,0.0218,0.0219,0.022,0.0221,0.0222,0.0223,0.0224,0.0225,0.0226,0.0227,0.0228,0.0229,0.023,0.0231,0.0232,0.0233],"tickDash":{"condition":{"test":"abs(datum.value*2000-round(datum.value*2000))<0.01","value":[100,1]},"value":[8,100]},"labels":false,"title":null}},
      "y":{"field":"y","type":"quantitative","scale":{"domain":[-1.199,-0.8003],"nice":false,"zero":false},"axis":{"orient":"right","values":[-1.175,-1.15,-1.125,-1.1,-1.075,-1.05,-1.025,-1,-0.975,-0.95,-0.925,-0.9,-0.875,-0.85,-0.825],"tickDash":{"condition":{"test":"abs(datum.value*20-round(datum.value*20))<0.01","value":[100,1]},"value":[8,100]},"labels":false,"title":null}}}}
    ],"resolve":{"axis":{"x":"independent","y":"independent"}}},
    {"width":355.4,"height":353.3,"data":{"name":"r2c2"},"layer":[
     {"transform":[{"filter":"datum.t=='o'"}],"mark":{"type":"point","shape":"circle","size":135,"filled":false,"stroke":"#333","strokeWidth":1.3,"opacity":1,"clip":true},"encoding":{
      "x":{"field":"x","type":"quantitative","scale":{"domain":[0.10793,0.13172],"nice":false,"zero":false},"axis":{"orient":"bottom","values":[0.108,0.109,0.11,0.111,0.112,0.113,0.114,0.115,0.116,0.117,0.118,0.119,0.12,0.121,0.122,0.123,0.124,0.125,0.126,0.127,0.128,0.129,0.13,0.131],"tickDash":{"condition":{"test":"abs(datum.value*200-round(datum.value*200))<0.01","value":[100,1]},"value":[8,100]},"format":"~g","labelExpr":"datum.value==0.11||datum.value==0.115||datum.value==0.12||datum.value==0.125?datum.label:''","labelPadding":32,"title":"ωc","titleY":90,"titleBaseline":"alphabetic"}},
      "y":{"field":"y","type":"quantitative","scale":{"domain":[-1.199,-0.8003],"nice":false,"zero":false},"axis":{"orient":"left","values":[-1.175,-1.15,-1.125,-1.1,-1.075,-1.05,-1.025,-1,-0.975,-0.95,-0.925,-0.9,-0.875,-0.85,-0.825],"tickDash":{"condition":{"test":"abs(datum.value*20-round(datum.value*20))<0.01","value":[100,1]},"value":[8,100]},"labels":false,"title":null}}}},
     {"transform":[{"filter":"datum.t=='r'"}],"mark":{"type":"point","shape":"circle","size":160,"filled":true,"fill":"#d80000","stroke":"#700000","strokeWidth":1,"opacity":1,"clip":true},"encoding":{
      "x":{"field":"x","type":"quantitative","scale":{"domain":[0.10793,0.13172],"nice":false,"zero":false},"axis":null},
      "y":{"field":"y","type":"quantitative","scale":{"domain":[-1.199,-0.8003],"nice":false,"zero":false},"axis":null}}},
     {"mark":{"type":"point","opacity":0,"clip":true},"encoding":{
      "x":{"field":"x","type":"quantitative","scale":{"domain":[0.10793,0.13172],"nice":false,"zero":false},"axis":{"orient":"top","values":[0.108,0.109,0.11,0.111,0.112,0.113,0.114,0.115,0.116,0.117,0.118,0.119,0.12,0.121,0.122,0.123,0.124,0.125,0.126,0.127,0.128,0.129,0.13,0.131],"tickDash":{"condition":{"test":"abs(datum.value*200-round(datum.value*200))<0.01","value":[100,1]},"value":[8,100]},"labels":false,"title":null}},
      "y":{"field":"y","type":"quantitative","scale":{"domain":[-1.199,-0.8003],"nice":false,"zero":false},"axis":{"orient":"right","values":[-1.175,-1.15,-1.125,-1.1,-1.075,-1.05,-1.025,-1,-0.975,-0.95,-0.925,-0.9,-0.875,-0.85,-0.825],"tickDash":{"condition":{"test":"abs(datum.value*20-round(datum.value*20))<0.01","value":[100,1]},"value":[8,100]},"labels":false,"title":null}}}}
    ],"resolve":{"axis":{"x":"independent","y":"independent"}}},
    {"width":79.3,"height":353.3,"data":{"name":"r2c3"},"layer":[
     {"transform":[{"filter":"datum.t=='o'"}],"mark":{"type":"point","shape":"circle","size":135,"filled":false,"stroke":"#333","strokeWidth":1.3,"opacity":1,"clip":true},"encoding":{
      "x":{"field":"x","type":"quantitative","scale":{"domain":[0.52836,0.585],"nice":false,"zero":false},"axis":{"orient":"bottom","values":[0.53,0.54,0.55,0.56,0.57,0.58],"tickDash":{"condition":{"test":"abs(datum.value*20-round(datum.value*20))<0.01","value":[100,1]},"value":[8,100]},"format":"~g","labelExpr":"datum.value==0.55?datum.label:''","labelPadding":32,"title":null}},
      "y":{"field":"y","type":"quantitative","scale":{"domain":[-1.199,-0.8003],"nice":false,"zero":false},"axis":{"orient":"left","values":[-1.175,-1.15,-1.125,-1.1,-1.075,-1.05,-1.025,-1,-0.975,-0.95,-0.925,-0.9,-0.875,-0.85,-0.825],"tickDash":{"condition":{"test":"abs(datum.value*20-round(datum.value*20))<0.01","value":[100,1]},"value":[8,100]},"labels":false,"title":null}}}},
     {"transform":[{"filter":"datum.t=='r'"}],"mark":{"type":"point","shape":"circle","size":160,"filled":true,"fill":"#d80000","stroke":"#700000","strokeWidth":1,"opacity":1,"clip":true},"encoding":{
      "x":{"field":"x","type":"quantitative","scale":{"domain":[0.52836,0.585],"nice":false,"zero":false},"axis":null},
      "y":{"field":"y","type":"quantitative","scale":{"domain":[-1.199,-0.8003],"nice":false,"zero":false},"axis":null}}},
     {"mark":{"type":"point","opacity":0,"clip":true},"encoding":{
      "x":{"field":"x","type":"quantitative","scale":{"domain":[0.52836,0.585],"nice":false,"zero":false},"axis":{"orient":"top","values":[0.53,0.54,0.55,0.56,0.57,0.58],"tickDash":{"condition":{"test":"abs(datum.value*20-round(datum.value*20))<0.01","value":[100,1]},"value":[8,100]},"labels":false,"title":null}},
      "y":{"field":"y","type":"quantitative","scale":{"domain":[-1.199,-0.8003],"nice":false,"zero":false},"axis":null}}}
    ],"resolve":{"axis":{"x":"independent","y":"independent"}}}
  ]}
 ]}
]
}
